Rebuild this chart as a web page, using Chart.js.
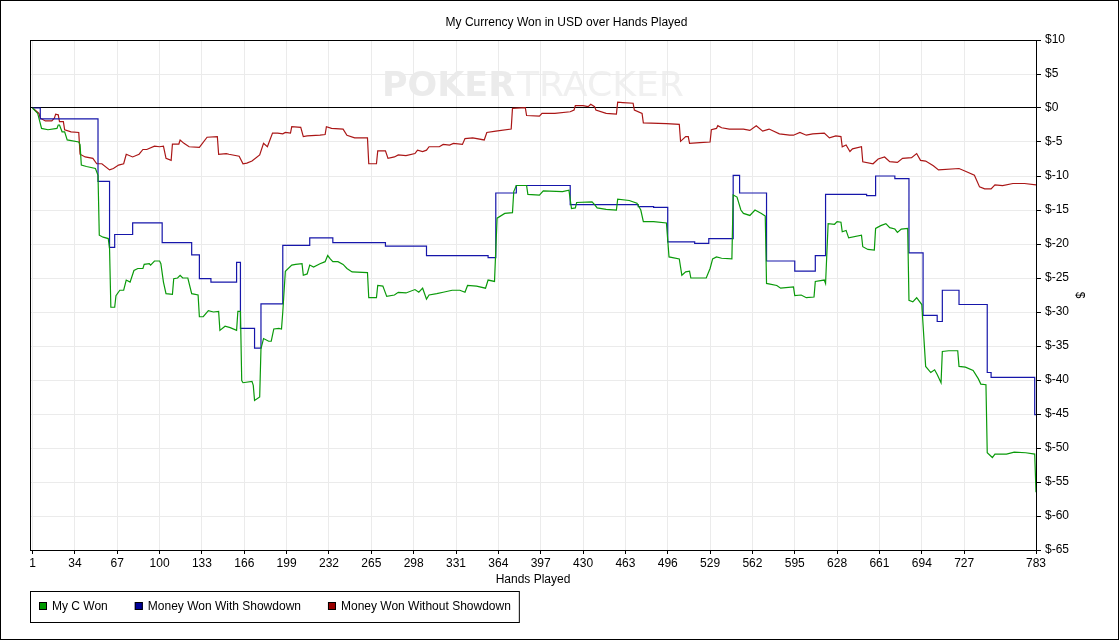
<!DOCTYPE html>
<html>
<head>
<meta charset="utf-8">
<title>My Currency Won in USD over Hands Played</title>
<script src="https://cdn.jsdelivr.net/npm/chart.js@4.4.1/dist/chart.umd.min.js"></script>
<style>
  html, body { margin: 0; padding: 0; background: #fff; }
  #wrap { width: 1120px; height: 641px; }
</style>
</head>
<body>
<div id="wrap"><canvas id="handsChart" width="1120" height="641"></canvas></div>
<script>
// Séries (mão, valor em USD)
const seriesNames = ['My C Won', 'Money Won With Showdown', 'Money Won Without Showdown'];

const xTickHands = [1, 34, 67, 100, 133, 166, 199, 232, 265, 298, 331, 364, 397, 430, 463,
  496, 529, 562, 595, 628, 661, 694, 727, 783];
const yTickValues = [10, 5, 0, -5, -10, -15, -20, -25, -30, -35, -40, -45, -50, -55, -60, -65];

// My C Won
const wonHands = [1, 5, 8, 13, 20, 21, 22, 24, 26, 28,
  37, 38, 39, 43, 50, 52, 53, 56, 60, 61,
  62, 65, 66, 69, 72, 74, 77, 80, 83, 87,
  88, 92, 93, 96, 100, 101, 103, 105, 110, 111,
  114, 116, 118, 122, 125, 130, 131, 134, 138, 142,
  146, 147, 151, 155, 160, 161, 163, 164, 165, 172,
  173, 174, 178, 179, 181, 185, 187, 189, 193, 195,
  196, 198, 203, 206, 211, 212, 215, 217, 220, 225,
  229, 231, 233, 235, 239, 243, 246, 250, 262, 263,
  269, 270, 274, 277, 283, 286, 292, 299, 302, 305,
  308, 310, 316, 321, 328, 334, 338, 340, 347, 354,
  356, 361, 363, 369, 375, 376, 378, 386, 387, 396,
  399, 414, 419, 421, 424, 425, 437, 439, 441, 448,
  456, 457, 466, 472, 475, 477, 485, 495, 497, 505,
  507, 510, 513, 514, 526, 529, 531, 534, 538, 546,
  547, 550, 553, 555, 560, 564, 569, 572, 573, 581,
  584, 594, 595, 600, 604, 610, 611, 618, 619, 621,
  626, 628, 631, 632, 635, 637, 647, 648, 652, 657,
  658, 662, 666, 669, 673, 675, 678, 683, 684, 687,
  690, 694, 697, 701, 704, 706, 709, 710, 715, 722,
  723, 728, 734, 738, 740, 744, 745, 749, 751, 760,
  766, 775, 782, 783];
const wonValues = [0, -0.8, -3.0, -3.2, -3.0, -2.5, -2.5, -3.5, -3.5, -4.7,
  -5.0, -5.4, -8.4, -8.6, -8.9, -9.9, -18.7, -19.0, -19.2, -20.7,
  -29.3, -29.3, -27.6, -26.8, -26.8, -25.3, -25.6, -23.9, -23.6, -23.6,
  -23.0, -22.9, -23.1, -22.5, -22.5, -22.9, -25.6, -27.3, -27.4, -25.1,
  -25.0, -24.6, -25.0, -25.0, -27.3, -27.5, -30.7, -30.7, -29.8, -30.0,
  -29.9, -32.7, -32.1, -32.3, -32.7, -29.9, -29.9, -40.1, -40.4, -40.2,
  -40.8, -43.0, -42.5, -35.4, -33.9, -34.3, -34.3, -32.5, -32.4, -32.5,
  -30.0, -24.0, -23.1, -23.0, -22.9, -24.6, -24.4, -23.1, -23.4, -22.9,
  -22.6, -21.7, -22.2, -22.6, -22.6, -23.0, -23.6, -24.1, -24.2, -27.9,
  -27.9, -26.1, -26.2, -27.7, -27.5, -27.1, -27.2, -26.7, -27.1, -26.5,
  -28.1, -27.5, -27.3, -27.1, -26.8, -26.8, -27.1, -26.1, -26.2, -26.5,
  -25.3, -25.5, -16.2, -15.5, -15.4, -12.3, -11.4, -11.4, -12.7, -12.8,
  -12.2, -12.3, -12.1, -14.8, -14.7, -13.9, -13.8, -14.2, -14.7, -14.9,
  -15.0, -13.4, -13.6, -14.0, -15.0, -16.7, -16.7, -16.9, -21.9, -22.2,
  -24.6, -24.1, -24.0, -25.0, -25.0, -23.6, -22.2, -21.9, -22.1, -22.2,
  -12.8, -13.1, -15.0, -15.5, -15.8, -15.0, -15.5, -15.9, -25.8, -26.1,
  -26.5, -26.3, -27.6, -27.5, -27.9, -27.8, -25.5, -25.3, -25.8, -17.0,
  -17.1, -16.7, -16.8, -18.2, -18.0, -19.1, -18.7, -20.4, -20.8, -20.9,
  -17.7, -17.3, -17.0, -17.6, -17.8, -18.3, -17.8, -17.7, -28.3, -28.5,
  -27.9, -28.9, -38.0, -38.9, -38.5, -39.2, -40.4, -35.8, -35.7, -35.7,
  -38.0, -38.1, -38.6, -39.8, -40.6, -40.7, -50.7, -51.4, -50.9, -50.9,
  -50.6, -50.7, -50.9, -56.5];

// Money Won With Showdown (degraus)
const showdownHands = [1, 7, 52, 61, 65, 79, 102, 125, 131, 140,
  160, 163, 174, 179, 196, 217, 235, 276, 308, 356,
  362, 378, 420, 473, 485, 496, 517, 528, 547, 552,
  573, 595, 611, 619, 651, 658, 673, 684, 695, 706,
  710, 723, 745, 748, 782, 783];
const showdownValues = [0, -1.6, -10.8, -20.5, -18.6, -16.9, -19.8, -21.6, -25.1, -25.6,
  -22.7, -32.4, -35.3, -28.8, -20.2, -19.1, -19.8, -20.3, -21.7, -22.0,
  -12.5, -11.4, -14.2, -14.5, -14.6, -19.7, -19.9, -19.2, -9.9, -12.5,
  -22.5, -24.0, -21.7, -12.7, -12.9, -10.0, -10.4, -21.3, -30.5, -31.4,
  -26.8, -28.9, -38.9, -39.6, -45.1, -45.1];

// Money Won Without Showdown
const noShowdownHands = [1, 6, 7, 11, 16, 18, 19, 21, 22, 25,
  26, 31, 37, 38, 42, 48, 51, 55, 61, 64,
  68, 72, 74, 79, 84, 87, 90, 96, 100, 103,
  105, 109, 110, 115, 116, 119, 123, 131, 137, 145,
  146, 152, 154, 162, 165, 168, 172, 178, 181, 184,
  188, 192, 196, 198, 202, 203, 210, 212, 215, 225,
  229, 230, 234, 243, 246, 252, 262, 263, 269, 270,
  276, 278, 283, 286, 292, 299, 301, 305, 308, 310,
  318, 321, 326, 329, 336, 338, 344, 353, 355, 362,
  374, 375, 385, 386, 396, 398, 408, 420, 423, 424,
  430, 434, 436, 439, 440, 448, 456, 457, 461, 469,
  470, 476, 477, 495, 505, 506, 510, 512, 513, 521,
  529, 530, 534, 535, 538, 544, 555, 560, 565, 570,
  575, 583, 591, 594, 599, 604, 609, 618, 622, 627,
  631, 632, 635, 638, 640, 647, 648, 656, 660, 665,
  669, 675, 679, 686, 690, 693, 697, 703, 707, 723,
  728, 735, 739, 743, 748, 751, 757, 765, 774, 783];
const noShowdownValues = [0, -0.8, -1.5, -1.9, -1.9, -1.5, -0.9, -1.0, -2.0, -2.0,
  -3.2, -3.5, -3.6, -6.8, -7.2, -7.4, -8.2, -8.2, -9.1, -8.9,
  -8.4, -8.2, -6.8, -7.2, -6.8, -6.1, -6.1, -5.6, -5.7, -5.6,
  -7.4, -7.7, -5.3, -5.3, -4.7, -5.2, -5.7, -5.8, -4.3, -4.2,
  -6.8, -6.7, -6.8, -7.1, -8.2, -8.1, -7.8, -6.9, -5.2, -5.7,
  -3.7, -3.7, -3.8, -3.6, -3.7, -2.75, -2.85, -4.2, -4.1, -4.0,
  -3.9, -2.75, -3.0, -3.1, -4.0, -4.4, -4.4, -8.2, -8.2, -6.3,
  -6.3, -7.4, -7.2, -6.9, -7.0, -6.7, -6.2, -6.4, -6.2, -5.7,
  -5.7, -5.35, -5.45, -5.2, -5.35, -4.5, -4.4, -4.7, -3.6, -3.4,
  -3.1, -0.05, 0.05, -1.1, -1.2, -0.8, -0.8, -0.55, -0.3, 0.35,
  0.35, 0.2, 0.55, 0.2, -0.3, -0.8, -0.9, 0.85, 0.8, 0.7,
  -0.3, -0.8, -2.2, -2.3, -2.4, -4.9, -4.2, -4.2, -5.2, -5.1,
  -5.0, -3.2, -3.0, -2.6, -2.9, -3.1, -3.1, -3.3, -2.6, -3.4,
  -3.1, -3.8, -4.0, -4.0, -3.6, -4.0, -3.8, -3.7, -4.4, -4.1,
  -4.2, -5.7, -5.45, -6.4, -6.0, -5.7, -7.9, -8.2, -7.5, -7.2,
  -7.9, -8.0, -7.4, -7.3, -6.7, -7.7, -7.8, -8.5, -9.1, -8.9,
  -9.3, -9.9, -11.6, -11.9, -11.9, -11.3, -11.4, -11.1, -11.1, -11.3];

const lineColors = ['#0a9a0a', '#1616aa', '#aa1616'];
const boxColors = ['#009900', '#000099', '#990000'];

function toPoints(hands, values) {
  return hands.map((h, i) => ({ x: h, y: values[i] }));
}

Chart.defaults.font.family = '"Liberation Sans", Arial, sans-serif';
Chart.defaults.font.size = 12;
Chart.defaults.color = '#000';

// fundo, marca d'água, bordas e legenda
const decorPlugin = {
  id: 'decor',
  beforeDraw(chart) {
    const { ctx, chartArea } = chart;
    ctx.save();
    ctx.fillStyle = '#fff';
    ctx.fillRect(0, 0, chart.width, chart.height);
    // marca d'água
    const cx = (chartArea.left + chartArea.right) / 2;
    const base = chartArea.top + 56;
    ctx.textBaseline = 'alphabetic';
    ctx.font = 'bold 33px "DejaVu Sans"';
    const w1 = ctx.measureText('POKER').width;
    ctx.font = '33px "DejaVu Sans"';
    const w2 = ctx.measureText('TRACKER').width;
    const start = cx - 151;
    ctx.fillStyle = '#ebebeb';
    ctx.save();
    ctx.translate(start, base);
    ctx.scale(133 / w1, 1);
    ctx.font = 'bold 33px "DejaVu Sans"';
    ctx.fillText('POKER', 0, 0);
    ctx.restore();
    ctx.fillStyle = '#f0f0f0';
    ctx.save();
    ctx.translate(start + 135, base);
    ctx.scale(167 / w2, 1);
    ctx.font = '33px "DejaVu Sans"';
    ctx.fillText('TRACKER', 0, 0);
    ctx.restore();
    ctx.restore();
  },
  afterDraw(chart) {
    const { ctx, chartArea } = chart;
    ctx.save();
    ctx.strokeStyle = '#000';
    ctx.lineWidth = 1;
    ctx.strokeRect(chartArea.left + 0.5, chartArea.top + 0.5,
      chartArea.right - chartArea.left, chartArea.bottom - chartArea.top);
    ctx.strokeRect(0.5, 0.5, chart.width - 2, chart.height - 2);

    // legenda
    const top = chartArea.bottom + 41;
    ctx.font = '12px "Liberation Sans", Arial, sans-serif';
    ctx.textBaseline = 'middle';
    ctx.textAlign = 'left';
    let x = chartArea.left + 9;
    chart.data.datasets.forEach((ds) => {
      ctx.fillStyle = ds.backgroundColor;
      ctx.fillRect(x, top + 11, 8, 8);
      ctx.strokeStyle = '#000';
      ctx.strokeRect(x + 0.5, top + 11.5, 7, 7);
      ctx.fillStyle = '#000';
      ctx.fillText(ds.label, x + 13, top + 16);
      x += 13 + ctx.measureText(ds.label).width + 27;
    });
    const boxW = x - 27 + 8 - chartArea.left;
    ctx.strokeRect(chartArea.left + 0.5, top + 0.5, boxW, 31);
    ctx.restore();
  }
};

const ctx = document.getElementById('handsChart').getContext('2d');
const handsChart = new Chart(ctx, {
  type: 'line',
  data: {
    datasets: [
      {
        label: seriesNames[0],
        data: toPoints(wonHands, wonValues),
        borderColor: lineColors[0],
        backgroundColor: boxColors[0]
      },
      {
        label: seriesNames[1],
        data: toPoints(showdownHands, showdownValues),
        borderColor: lineColors[1],
        backgroundColor: boxColors[1],
        stepped: true
      },
      {
        label: seriesNames[2],
        data: toPoints(noShowdownHands, noShowdownValues),
        borderColor: lineColors[2],
        backgroundColor: boxColors[2]
      }
    ]
  },
  options: {
    responsive: false,
    animation: false,
    elements: {
      point: { radius: 0, hoverRadius: 0 },
      line: { borderWidth: 1.2, tension: 0, fill: false }
    },
    layout: { padding: { left: 30, right: 17, top: 0, bottom: 50 } },
    plugins: {
      legend: { display: false },
      tooltip: { enabled: false },
      title: {
        display: true,
        text: 'My Currency Won in USD over Hands Played',
        font: { size: 12, weight: 'normal' },
        color: '#000',
        padding: { top: 15.8, bottom: 9.8 }
      }
    },
    scales: {
      x: {
        type: 'linear',
        min: -1,
        max: 783,
        afterBuildTicks: (scale) => { scale.ticks = xTickHands.map(v => ({ value: v })); },
        afterFit: (scale) => { scale.height = 41; },
        ticks: { autoSkip: false, maxRotation: 0, padding: 2, callback: v => String(v) },
        grid: { color: '#ebebeb', tickColor: '#000', tickLength: 4 },
        border: { color: '#000' },
        title: { display: true, text: 'Hands Played', padding: { top: 0, bottom: 4 } }
      },
      y: {
        position: 'right',
        min: -65,
        max: 10,
        afterBuildTicks: (scale) => { scale.ticks = yTickValues.map(v => ({ value: v })); },
        afterFit: (scale) => { scale.width = 67; },
        ticks: { padding: 4, callback: v => '$' + v },
        grid: {
          color: c => (c.tick && c.tick.value === 0 ? '#000' : '#ebebeb'),
          tickColor: '#000',
          tickLength: 5
        },
        border: { color: '#000' },
        title: { display: true, text: '$', padding: { top: 16, bottom: 0 } }
      }
    }
  },
  plugins: [decorPlugin]
});
</script>
</body>
</html>
